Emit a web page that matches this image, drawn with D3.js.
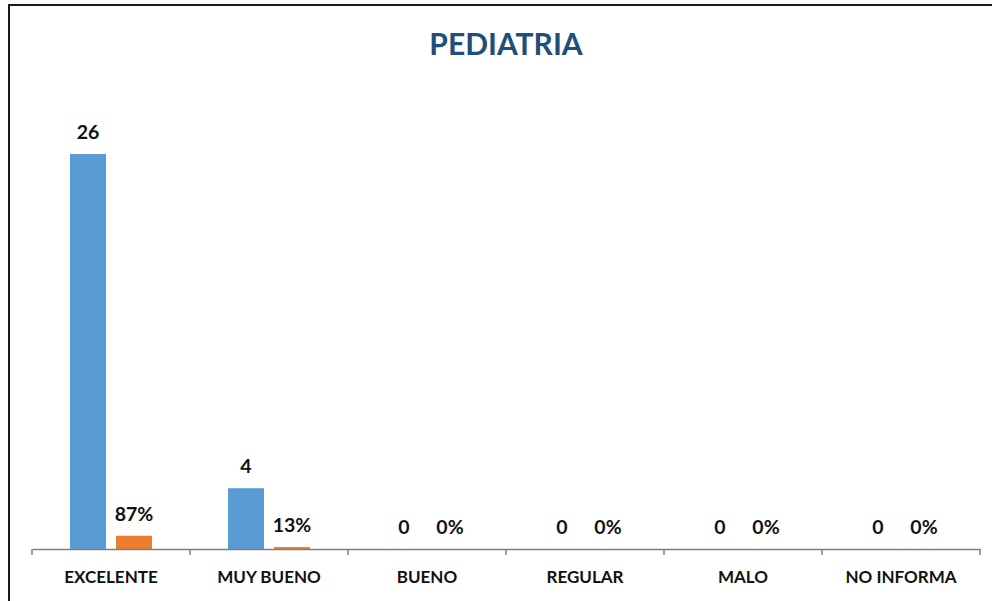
<!DOCTYPE html>
<html>
<head>
<meta charset="utf-8">
<script src="https://cdn.jsdelivr.net/npm/d3@7"></script>
<style>
  html, body { margin: 0; padding: 0; background: #fff; }
  svg { display: block; }
  text { font-family: Lato, "Open Sans", sans-serif; }
</style>
</head>
<body>
<svg id="chart" width="992" height="601"></svg>
<script>
const title = "PEDIATRIA";
const categories = ["EXCELENTE", "MUY BUENO", "BUENO", "REGULAR", "MALO", "NO INFORMA"];
const counts = [26, 4, 0, 0, 0, 0];
const percents = [0.87, 0.13, 0, 0, 0, 0];
const seriesNames = ["count", "percent"];
const seriesColors = ["#5B9BD5", "#ED7D31"];

const svg = d3.select("#chart");
const W = 992, H = 601;

// frame
svg.append("path")
  .attr("d", `M9,${H} L9,5 L${W},5`)
  .attr("fill", "none").attr("stroke", "#1a1a1a").attr("stroke-width", 2);

const x = d3.scaleBand().domain(categories).range([32, 980]).paddingInner(0).paddingOuter(0);
const xs = d3.scaleBand().domain(seriesNames).range([38, 120]).paddingInner(10 / 46).paddingOuter(0);
const y = d3.scaleLinear().domain([0, 26]).range([549, 154]);

const rows = categories.map((c, i) => ({ cat: c, values: [
  { s: "count", v: counts[i], label: d3.format("d")(counts[i]) },
  { s: "percent", v: percents[i], label: d3.format(".0%")(percents[i]) }
]}));

const g = svg.append("g");
const groups = g.selectAll("g.cat").data(rows).join("g")
  .attr("transform", d => `translate(${x(d.cat)},0)`);

groups.selectAll("rect").data(d => d.values).join("rect")
  .attr("x", d => xs(d.s))
  .attr("width", xs.bandwidth())
  .attr("y", d => y(d.v))
  .attr("height", d => y(0) - y(d.v))
  .attr("fill", (d, i) => seriesColors[i]);

groups.selectAll("text.lbl").data(d => d.values).join("text")
  .attr("class", "lbl")
  .attr("x", d => xs(d.s) + xs.bandwidth() / 2)
  .attr("y", d => y(d.v) - 15)
  .attr("text-anchor", "middle")
  .attr("font-size", 19.5)
  .attr("font-weight", "bold")
  .attr("fill", "#111")
  .text(d => d.label);

// axis
const axis = d3.axisBottom(x).tickSize(0).tickPadding(22);
const ag = svg.append("g").attr("transform", `translate(0,${y(0)})`).call(axis);
ag.select(".domain").attr("stroke", "#7f7f7f").attr("stroke-width", 1.5);
ag.selectAll(".tick text")
  .attr("font-size", 17).attr("font-weight", "bold").attr("fill", "#111")
  .style("font-family", "Lato, 'Open Sans', sans-serif");

// boundary ticks
const bounds = categories.map(c => x(c)).concat([x.range()[1]]);
ag.selectAll("line.bt").data(bounds).join("line")
  .attr("class", "bt")
  .attr("x1", d => d).attr("x2", d => d)
  .attr("y1", 0).attr("y2", 6)
  .attr("stroke", "#7f7f7f").attr("stroke-width", 1.5);

// title
svg.append("text")
  .attr("x", (x.range()[0] + x.range()[1]) / 2)
  .attr("y", 55)
  .attr("text-anchor", "middle")
  .attr("font-size", 30)
  .attr("font-weight", "bold")
  .attr("fill", "#1F4E79")
  .text(title);
</script>
</body>
</html>
